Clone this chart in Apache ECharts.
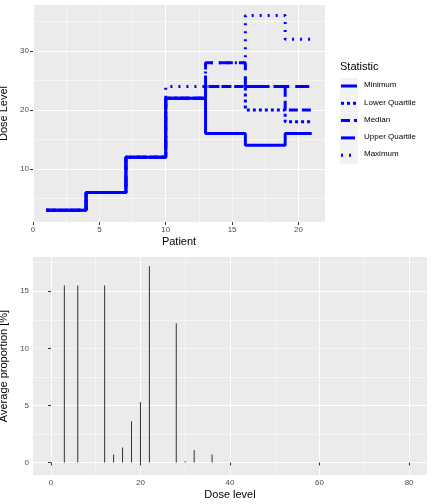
<!DOCTYPE html>
<html>
<head>
<meta charset="utf-8">
<script src="https://cdn.jsdelivr.net/npm/echarts@6/dist/echarts.min.js"></script>
<style>
    body { margin: 0; background: #fff; }
    #main { width: 432px; height: 504px; }
</style>
</head>
<body>
<div id="main"></div>
<script>
    // step change points for patients
    var patients = [1, 4, 7, 10, 13, 16, 19, 21];
    var minimum = [3, 6, 12, 22, 16, 14, 16, 16];
    var lowerQ = [3, 6, 12, 22, 24, 20, 18, 18];
    var median = [3, 6, 12, 22, 24, 24, 20, 20];
    var upperQ = [3, 6, 12, 22, 28, 24, 24, 24];
    var maximum = [3, 6, 12, 24, 28, 36, 32, 32];

    var doseLevels = [3, 6, 12, 14, 16, 18, 20, 22, 28, 30, 32, 36];
    var proportions = [15.5, 15.5, 15.5, 0.7, 1.3, 3.6, 5.3, 17.2, 12.2, 0.1, 1.1, 0.7];

    var names = ['Minimum', 'Lower Quartile', 'Median', 'Upper Quartile', 'Maximum'];
    var stats = [minimum, lowerQ, median, upperQ, maximum];
    var dashes = ['solid', [3, 3], [9, 4], [14, 6], [2, 6]];

    function pairs(xs, ys) {
        return xs.map(function (x, i) { return [x, ys[i]]; });
    }

    var grey = '#4d4d4d';
    function axis(extra) {
        return Object.assign({
            type: 'value',
            axisLine: {show: false},
            splitLine: {show: false},
            nameLocation: 'middle',
            nameTextStyle: {color: '#000', fontSize: 11}
        }, extra);
    }
    function ticks(vals) {
        return {
            axisLabel: {color: grey, fontSize: 8, margin: 4, customValues: vals},
            axisTick: {show: true, length: 3, customValues: vals, lineStyle: {color: '#333'}}
        };
    }

    // white panel grid lines at the ggplot breaks
    function gridLines(xs, ys, xi, yi, minor) {
        var d = [];
        xs.forEach(function (v) { d.push({xAxis: v, lineStyle: {width: minor.indexOf(v) >= 0 ? 0.5 : 1}}); });
        ys.forEach(function (v) { d.push({yAxis: v, lineStyle: {width: minor.indexOf(v) >= 0 ? 0.5 : 1}}); });
        return {
            type: 'line', xAxisIndex: xi, yAxisIndex: yi, data: [], silent: true, z: 0,
            symbol: 'none', showSymbol: false,
            markLine: {symbol: 'none', silent: true, label: {show: false}, animation: false, z: 0,
                lineStyle: {color: '#fff', type: 'solid'}, data: d}
        };
    }

    var series = [
        gridLines([0, 2.5, 5, 7.5, 10, 12.5, 15, 17.5, 20], [5, 10, 15, 20, 25, 30, 35], 0, 0,
            [2.5, 7.5, 12.5, 17.5, 5, 15, 25, 35]),
        gridLines([0, 10, 20, 30, 40, 50, 60, 70, 80], [2.5, 5, 7.5, 10, 12.5, 15, 17.5, 0], 1, 1,
            [10, 30, 50, 70, 2.5, 7.5, 12.5, 17.5])
    ];
    names.forEach(function (n, i) {
        series.push({
            name: n,
            type: 'line',
            step: 'end',
            xAxisIndex: 0,
            yAxisIndex: 0,
            symbol: 'none',
            data: pairs(patients, stats[i]),
            lineStyle: {color: '#0000ff', width: 3, type: dashes[i]},
            z: 10 - i
        });
    });
    series.push({
        type: 'bar',
        xAxisIndex: 1,
        yAxisIndex: 1,
        barWidth: 1,
        itemStyle: {color: '#333'},
        data: pairs(doseLevels, proportions),
        z: 5
    });

    // legend drawn by hand to keep ggplot key style
    var graphics = [{
        type: 'text', left: 340, top: 61,
        style: {text: 'Statistic', fontSize: 11, fill: '#000', fontFamily: 'Liberation Sans'}
    }];
    names.forEach(function (n, i) {
        var y = 86 + i * 17.3;
        graphics.push({type: 'rect', shape: {x: 340, y: y - 8, width: 18, height: 17}, style: {fill: '#f2f2f2'}});
        graphics.push({type: 'line', shape: {x1: 341, y1: y, x2: 357, y2: y},
            style: {stroke: '#0000ff', lineWidth: 3, lineDash: dashes[i] === 'solid' ? null : dashes[i]}});
        graphics.push({type: 'text', x: 364, y: y - 5,
            style: {text: n, fontSize: 8, fill: '#000', fontFamily: 'Liberation Sans'}});
    });

    var myChart = echarts.init(document.getElementById('main'));
    var option = {
        animation: false,
        textStyle: {fontFamily: 'Liberation Sans, Arial, sans-serif'},
        grid: [
            {left: 33, top: 5, right: 107, bottom: 282, backgroundColor: '#ebebeb', show: true, borderWidth: 0, outerBoundsMode: 'none'},
            {left: 33, top: 257, right: 5, bottom: 29, backgroundColor: '#ebebeb', show: true, borderWidth: 0, outerBoundsMode: 'none'}
        ],
        graphic: graphics,
        xAxis: [
            axis(Object.assign({gridIndex: 0, min: 0, max: 22, name: 'Patient', nameGap: 14}, ticks([0, 5, 10, 15, 20]))),
            axis(Object.assign({gridIndex: 1, min: -4, max: 84, name: 'Dose level', nameGap: 14}, ticks([0, 20, 40, 60, 80])))
        ],
        yAxis: [
            axis(Object.assign({gridIndex: 0, min: 1, max: 37.8, name: 'Dose Level', nameGap: 20}, ticks([10, 20, 30]))),
            axis(Object.assign({gridIndex: 1, min: -1.1, max: 18, name: 'Average proportion [%]', nameGap: 20}, ticks([0, 5, 10, 15])))
        ],
        series: series
    };

    myChart.setOption(option);
</script>
</body>
</html>
